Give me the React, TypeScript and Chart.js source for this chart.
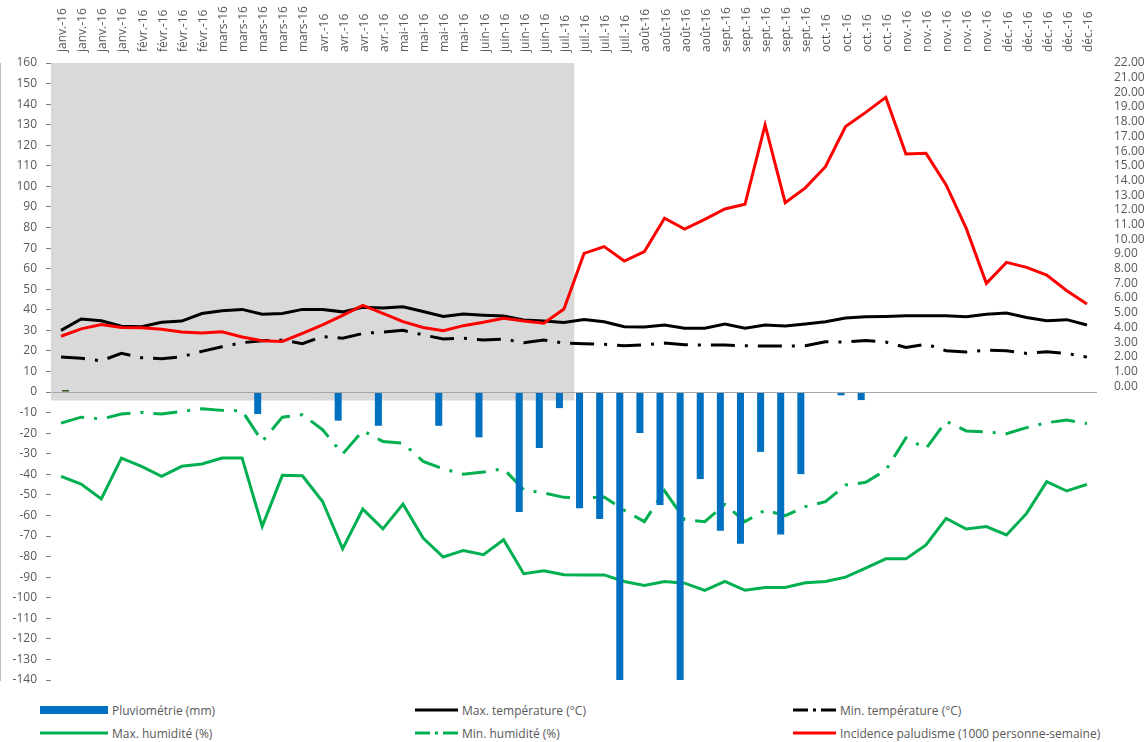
import React, { useEffect, useRef } from "react";
import { Chart, registerables } from "chart.js";

Chart.register(...registerables);

const categories = [
  "janv.-16", "janv.-16", "janv.-16", "janv.-16",
  "févr.-16", "févr.-16", "févr.-16", "févr.-16",
  "mars-16", "mars-16", "mars-16", "mars-16", "mars-16",
  "avr.-16", "avr.-16", "avr.-16", "avr.-16",
  "mai-16", "mai-16", "mai-16", "mai-16",
  "juin-16", "juin-16", "juin-16", "juin-16",
  "juil.-16", "juil.-16", "juil.-16", "juil.-16",
  "août-16", "août-16", "août-16", "août-16",
  "sept.-16", "sept.-16", "sept.-16", "sept.-16", "sept.-16",
  "oct.-16", "oct.-16", "oct.-16", "oct.-16",
  "nov.-16", "nov.-16", "nov.-16", "nov.-16", "nov.-16",
  "déc.-16", "déc.-16", "déc.-16", "déc.-16", "déc.-16",
];

// Pluviométrie (mm), drawn downward
const pluviometrie = [
  0, 0, 0, 0, 0, 0, 0, 0, 0, 0,
  -10.7, 0, 0, 0, -13.9, 0, -16.4, 0, 0, -16.4,
  0, -22, 0, -58.3, -27.2, -7.8, -56.5, -61.7, -150, -19.9,
  -54.9, -150, -42.3, -67.4, -73.8, -29.1, -69.3, -39.9, 0, -1.6,
  -3.9, 0, 0, 0, 0, 0, 0, 0, 0, 0,
  0, 0,
];

const maxTemperature = [
  30, 35.5, 34.7, 32, 31.8, 33.9, 34.5, 38.2, 39.5, 40.2,
  37.8, 38.2, 40.2, 40.2, 39, 41.2, 40.9, 41.5, 39.2, 36.8,
  37.9, 37.4, 37, 35, 34.5, 33.8, 35.3, 34.2, 31.8, 31.6,
  32.6, 31, 31, 33.1, 31, 32.6, 32.1, 33.1, 34.2, 36,
  36.6, 36.8, 37.1, 37.1, 37.1, 36.6, 37.8, 38.4, 36.3, 34.7,
  35.2, 32.6,
];

const minTemperature = [
  17, 16.4, 15.2, 18.8, 16.7, 16.2, 17.2, 19.8, 22, 24,
  25, 25.3, 23.5, 27, 26.2, 28.5, 29.2, 30, 27.8, 25.8,
  26.2, 25.3, 25.8, 24, 25.3, 23.8, 23.5, 23.2, 22.5, 22.9,
  23.8, 23, 22.9, 22.9, 22.5, 22.4, 22.4, 22.5, 24.5, 24.3,
  25.1, 24.3, 21.7, 23.3, 20.1, 19.5, 20.4, 20.1, 18.8, 19.6,
  18.8, 17,
];

// Humidité, drawn downward
const maxHumidite = [
  -41, -44.7, -52, -32.1, -36.1, -41, -36.1, -35, -32.1, -32.1,
  -65.3, -40.5, -40.7, -53.2, -76.2, -56.9, -66.5, -54.5, -71, -80.2,
  -77, -79.1, -71.8, -88.3, -86.9, -88.8, -88.9, -88.9, -92.1, -94,
  -92.1, -92.9, -96.4, -92.1, -96.4, -95, -95, -92.7, -92.1, -90,
  -85.6, -81.1, -81.1, -74.3, -61.4, -66.6, -65.4, -69.5, -59, -43.6,
  -48.1, -44.9,
];

const minHumidite = [
  -15.1, -12.2, -13.1, -10.7, -9.9, -10.7, -9.4, -8.1, -8.9, -9.1,
  -24, -12.2, -11, -18.3, -30.1, -18.8, -24, -24.8, -33.7, -37.4,
  -39.9, -38.9, -37.3, -47.5, -49.1, -51.2, -51.4, -51, -57.5, -63,
  -48, -62, -63, -54.6, -63, -57.4, -60.1, -55.7, -53.3, -45.2,
  -43.9, -38, -22.3, -27.5, -14.2, -18.9, -19.4, -20.2, -17.3, -14.9,
  -13.6, -15.3,
];

// Incidence paludisme (1000 personne-semaine), right axis
const incidence = [
  3.4, 3.9, 4.2, 4.0, 3.98, 3.87, 3.69, 3.62, 3.71, 3.35,
  3.1, 3.05, 3.6, 4.17, 4.82, 5.5, 4.96, 4.39, 4.0, 3.78,
  4.12, 4.35, 4.62, 4.44, 4.28, 5.25, 9.04, 9.5, 8.52, 9.16,
  11.43, 10.7, 11.36, 12.06, 12.38, 17.78, 12.49, 13.5, 14.94, 17.67,
  18.64, 19.66, 15.8, 15.85, 13.7, 10.74, 7.0, 8.43, 8.09, 7.57,
  6.5, 5.6,
];

// tiny unlabeled series visible at the first week
const marqueur = [1];

// shaded period (first weeks), as a range on the left axis
const shadeRange = [-4, 160];
const shadedWeeks = 26;

const leftTicks = { min: -140, max: 160, step: 10 };
const rightTicks = { min: -20, max: 22, step: 1 };

const FONT = "'Open Sans', 'DejaVu Sans', sans-serif";
const TEXT = "#595959";

type LegendItem = {
  label: string;
  kind: "bar" | "line";
  color: string;
  dash?: string;
  x: number;
  w: number;
  row: number;
};

const legendItems: LegendItem[] = [
  { label: "Pluviométrie (mm)", kind: "bar", color: "#0070C0", x: 40, w: 68, row: 0 },
  { label: "Max. température (°C)", kind: "line", color: "#000000", x: 415, w: 43, row: 0 },
  { label: "Min. température (°C)", kind: "line", color: "#000000", dash: "15 5 3 5", x: 793, w: 43, row: 0 },
  { label: "Max. humidité (%)", kind: "line", color: "#00B050", x: 40, w: 68, row: 1 },
  { label: "Min. humidité (%)", kind: "line", color: "#00B050", dash: "15 5 3 5", x: 415, w: 43, row: 1 },
  { label: "Incidence paludisme (1000 personne-semaine)", kind: "line", color: "#FF0000", x: 793, w: 43, row: 1 },
];

export default function App() {
  const ref = useRef<HTMLCanvasElement | null>(null);

  useEffect(() => {
    if (!ref.current) return;
    const shade = categories.map((_, i) => (i < shadedWeeks ? shadeRange : null));
    const marker = categories.map((_, i) => (i < marqueur.length ? marqueur[i] : null));
    const dashDot = [24, 10, 3, 10];

    const chart = new Chart(ref.current, {
      type: "bar",
      data: {
        labels: categories,
        datasets: [
          {
            type: "bar",
            label: "shade",
            data: shade as any,
            backgroundColor: "#D9D9D9",
            borderWidth: 0,
            grouped: false,
            categoryPercentage: 1,
            barPercentage: 1,
            order: 20,
            yAxisID: "y",
          } as any,
          {
            type: "bar",
            label: "Pluviométrie (mm)",
            data: pluviometrie,
            backgroundColor: "#0070C0",
            borderWidth: 0,
            stack: "p",
            categoryPercentage: 0.895,
            barPercentage: 0.78,
            order: 1,
            yAxisID: "y",
          },
          {
            type: "bar",
            label: "marqueur",
            data: marker as any,
            backgroundColor: "#375623",
            borderWidth: 0,
            stack: "q",
            categoryPercentage: 0.895,
            barPercentage: 0.78,
            order: 2,
            yAxisID: "y",
          },
          {
            type: "line",
            label: "Max. humidité (%)",
            data: maxHumidite,
            borderColor: "#00B050",
            borderWidth: 3,
            pointRadius: 0,
            tension: 0,
            order: 8,
            yAxisID: "y",
          },
          {
            type: "line",
            label: "Min. humidité (%)",
            data: minHumidite,
            borderColor: "#00B050",
            borderWidth: 3,
            borderDash: dashDot,
            pointRadius: 0,
            tension: 0,
            order: 7,
            yAxisID: "y",
          },
          {
            type: "line",
            label: "Min. température (°C)",
            data: minTemperature,
            borderColor: "#000000",
            borderWidth: 3,
            borderDash: dashDot,
            pointRadius: 0,
            tension: 0,
            order: 6,
            yAxisID: "y",
          },
          {
            type: "line",
            label: "Max. température (°C)",
            data: maxTemperature,
            borderColor: "#000000",
            borderWidth: 3,
            pointRadius: 0,
            tension: 0,
            order: 5,
            yAxisID: "y",
          },
          {
            type: "line",
            label: "Incidence paludisme (1000 personne-semaine)",
            data: incidence,
            borderColor: "#FF0000",
            borderWidth: 3,
            pointRadius: 0,
            tension: 0,
            order: 4,
            yAxisID: "y1",
          },
        ],
      },
      options: {
        animation: false,
        responsive: false,
        devicePixelRatio: 1,
        layout: { padding: { top: 0, left: 0, right: 0, bottom: 20 } },
        plugins: {
          legend: { display: false },
          tooltip: { enabled: false },
        },
        scales: {
          x: {
            type: "category",
            position: "top",
            offset: true,
            grid: { display: false },
            border: { display: false },
            ticks: {
              autoSkip: false,
              minRotation: 90,
              maxRotation: 90,
              padding: 3,
              labelOffset: 16,
              color: TEXT,
              font: { family: FONT, size: 12 },
            },
            afterFit: (s: any) => {
              s.height = 63;
            },
          },
          y: {
            type: "linear",
            position: "left",
            min: leftTicks.min,
            max: leftTicks.max,
            grid: {
              display: true,
              drawOnChartArea: true,
              drawTicks: true,
              tickLength: 5,
              tickColor: "#7F7F7F",
              color: (ctx: any) => (ctx.tick && ctx.tick.value === 0 ? "#A6A6A6" : "rgba(0,0,0,0)"),
              lineWidth: 1,
              z: 1,
            },
            border: { display: true, color: "#7F7F7F", width: 1 },
            ticks: {
              stepSize: leftTicks.step,
              maxTicksLimit: 100,
              autoSkip: false,
              padding: 9,
              color: TEXT,
              font: { family: FONT, size: 12 },
              callback: (v: any) => String(v),
            },
            afterFit: (s: any) => {
              s.width = 51;
            },
          },
          y1: {
            type: "linear",
            position: "right",
            min: rightTicks.min,
            max: rightTicks.max,
            grid: { display: false },
            border: { display: false },
            ticks: {
              stepSize: rightTicks.step,
              maxTicksLimit: 100,
              autoSkip: false,
              padding: 9,
              color: TEXT,
              font: { family: FONT, size: 12 },
              callback: (v: any) => (Number(v) >= 0 ? Number(v).toFixed(2) : ""),
            },
            afterFit: (s: any) => {
              s.width = 48;
            },
          },
        },
      } as any,
    });
    return () => chart.destroy();
  }, []);

  return (
    <div
      style={{
        position: "absolute",
        left: 0,
        top: 0,
        width: 1145,
        height: 742,
        background: "#FFFFFF",
        fontFamily: FONT,
      }}
    >
      <canvas ref={ref} width={1145} height={700} style={{ position: "absolute", left: 0, top: 0 }} />
      {legendItems.map((it, k) => {
        const cy = it.row === 0 ? 710 : 733;
        return (
          <div
            key={k}
            style={{
              position: "absolute",
              left: it.x,
              top: cy - 9,
              height: 18,
              display: "flex",
              alignItems: "center",
              whiteSpace: "nowrap",
              fontSize: 12,
              color: TEXT,
            }}
          >
            <svg width={it.w} height={12} style={{ marginRight: 4 }}>
              {it.kind === "bar" ? (
                <rect x={0} y={2} width={it.w} height={8} fill={it.color} />
              ) : (
                <line
                  x1={0}
                  y1={6}
                  x2={it.w}
                  y2={6}
                  stroke={it.color}
                  strokeWidth={3}
                  strokeDasharray={it.dash}
                />
              )}
            </svg>
            <span>{it.label}</span>
          </div>
        );
      })}
    </div>
  );
}
